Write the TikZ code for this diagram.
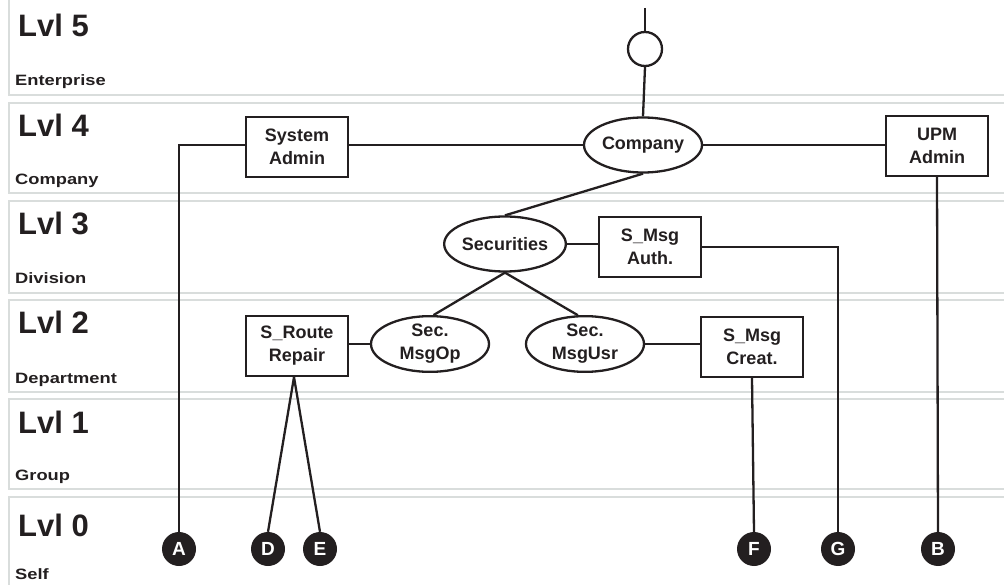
\documentclass[tikz,border=0pt]{standalone}
\usepackage{fontspec}
\setmainfont{Liberation Sans}
\usetikzlibrary{shapes.geometric,calc}
\definecolor{bandgray}{HTML}{D9DDDC}
\definecolor{ink}{HTML}{231F20}
\begin{document}
\begin{tikzpicture}[x=1pt,y=-1pt,
  band/.style={draw=bandgray, line width=2.2pt},
  lvl/.style={anchor=base west, inner sep=0, text=ink, font=\bfseries\fontsize{31}{31}\selectfont},
  lvlname/.style={anchor=base west, inner sep=0, text=ink, font=\bfseries\fontsize{15}{15}\selectfont},
  box/.style={draw=ink, line width=2.3pt, minimum width=102pt, minimum height=60pt, inner sep=0, align=center, text=ink, font=\bfseries\fontsize{18}{23}\selectfont},
  oval/.style={ellipse, draw=ink, line width=2.3pt, minimum width=118pt, minimum height=55pt, inner sep=0, align=center, text=ink, font=\bfseries\fontsize{18}{23}\selectfont},
  conn/.style={draw=ink, line width=2.3pt},
  badge/.style={circle, fill=ink, minimum size=34pt, inner sep=0, text=white, font=\bfseries\fontsize{19}{19}\selectfont}
]
\useasboundingbox (0,0) rectangle (1004,585);
% bands
\draw[band] (9,-10) rectangle (1015,95);
\draw[band] (9,103) rectangle (1015,193);
\draw[band] (9,201) rectangle (1015,293);
\draw[band] (9,300) rectangle (1015,392);
\draw[band] (9,399) rectangle (1015,489);
\draw[band] (9,497) rectangle (1015,600);
% level labels
\node[lvl] (l5) at (18,37) {Lvl 5};
\node[lvlname] (n5) at (15,86) {\scalebox{1.22}[1]{Enterprise}};
\node[lvl] (l4) at (18,137) {Lvl 4};
\node[lvlname] (n4) at (15,185) {\scalebox{1.22}[1]{Company}};
\node[lvl] (l3) at (18,235) {Lvl 3};
\node[lvlname] (n3) at (15,284) {\scalebox{1.22}[1]{Division}};
\node[lvl] (l2) at (18,334) {Lvl 2};
\node[lvlname] (n2) at (15,383) {\scalebox{1.22}[1]{Department}};
\node[lvl] (l1) at (18,433) {Lvl 1};
\node[lvlname] (n1) at (15,480) {\scalebox{1.22}[1]{Group}};
\node[lvl] (l0) at (18,536) {Lvl 0};
\node[lvlname] (n0) at (15,579) {\scalebox{1.22}[1]{Self}};
% nodes
\coordinate (top) at (645,8);
\node[circle, draw=ink, line width=2.3pt, minimum size=34pt, inner sep=0] (circ) at (645,49) {};
\node[oval] (company) at (643,145) {Company};
\node[box] (sysadmin) at (297,147) {System\\Admin};
\node[box] (upm) at (937,146) {UPM\\Admin};
\node[oval] (sec) at (505,244) {Securities};
\node[box] (auth) at (650,247) {S\_Msg\\Auth.};
\node[box] (route) at (297,346) {S\_Route\\Repair};
\node[oval] (msgop) at (430,344) {Sec.\\MsgOp};
\node[oval] (msgusr) at (585,344) {Sec.\\MsgUsr};
\node[box] (creat) at (752,347) {S\_Msg\\Creat.};
\node[badge] (A) at (179,549) {A};
\node[badge] (D) at (268,549) {D};
\node[badge] (E) at (320,549) {E};
\node[badge] (F) at (754,549) {F};
\node[badge] (G) at (838,549) {G};
\node[badge] (B) at (938,549) {B};
% connectors
\draw[conn] (top) -- (circ.north);
\draw[conn] (circ.south) -- (company.north);
\draw[conn] (company.west) -- (company.west -| sysadmin.east);
\draw[conn] (company.east) -- (company.east -| upm.west);
\draw[conn] (sysadmin.west |- company.west) -| (A.north);
\draw[conn] (upm.south) -- (B.north);
\draw[conn] (company.south) -- (sec.north);
\draw[conn] (sec.east) -- (sec.east -| auth.west);
\draw[conn] (auth.east) -| (G.north);
\draw[conn] (sec.south) -- (msgop.83);
\draw[conn] (sec.south) -- (msgusr.104);
\draw[conn] (msgop.west) -- (msgop.west -| route.east);
\draw[conn] (msgusr.east) -- (msgusr.east -| creat.west);
\draw[conn] (creat.south) -- (F.north);
\draw[conn] ($(route.south)+(-3,0)$) -- (D.north);
\draw[conn] ($(route.south)+(-3,0)$) -- (E.north);
\end{tikzpicture}
\end{document}
